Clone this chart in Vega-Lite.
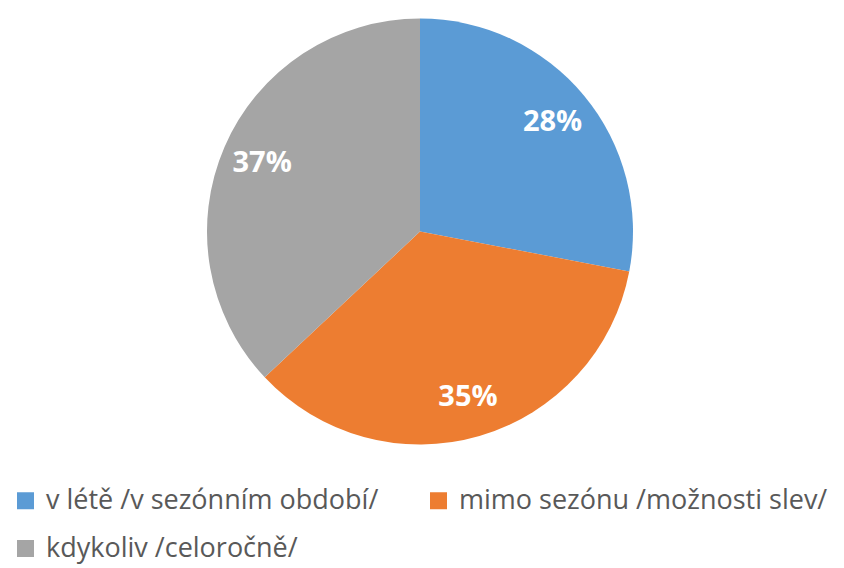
{
  "$schema": "https://vega.github.io/schema/vega-lite/v6.json",
  "width": 840,
  "height": 463,
  "autosize": {"type": "none"},
  "padding": {"left": 0, "top": 0, "right": 4, "bottom": 105},
  "background": "white",
  "config": {"view": {"stroke": null}},
  "data": {
    "values": [
      {"i": 1, "kategorie": "v létě /v sezónním období/", "podil": 28, "label": "28%"},
      {"i": 2, "kategorie": "mimo sezónu /možnosti slev/", "podil": 35, "label": "35%"},
      {"i": 3, "kategorie": "kdykoliv /celoročně/", "podil": 37, "label": "37%"}
    ]
  },
  "encoding": {
    "theta": {"field": "podil", "type": "quantitative", "stack": true},
    "order": {"field": "i", "type": "quantitative"},
    "color": {
      "field": "kategorie",
      "type": "nominal",
      "sort": null,
      "scale": {
        "domain": ["v létě /v sezónním období/", "mimo sezónu /možnosti slev/", "kdykoliv /celoročně/"],
        "range": ["#5B9BD5", "#ED7D31", "#A5A5A5"]
      },
      "legend": {
        "title": null,
        "orient": "none",
        "direction": "horizontal",
        "legendX": 12,
        "legendY": 487,
        "columns": 2,
        "columnPadding": 46,
        "rowPadding": 20,
        "symbolType": "square",
        "symbolSize": 289,
        "symbolStrokeWidth": 0,
        "symbolOpacity": 1,
        "labelFont": "Open Sans",
        "labelFontSize": 27,
        "labelColor": "#595959",
        "labelOffset": 7,
        "labelLimit": 0
      }
    }
  },
  "layer": [
    {
      "mark": {"type": "arc", "outerRadius": 213, "stroke": "white", "strokeWidth": 0}
    },
    {
      "mark": {"type": "text", "radius": 172, "font": "Open Sans", "fontSize": 29, "fontWeight": "bold", "fill": "white"},
      "encoding": {
        "text": {"field": "label", "type": "nominal"},
        "color": {"value": "white"}
      }
    }
  ]
}
